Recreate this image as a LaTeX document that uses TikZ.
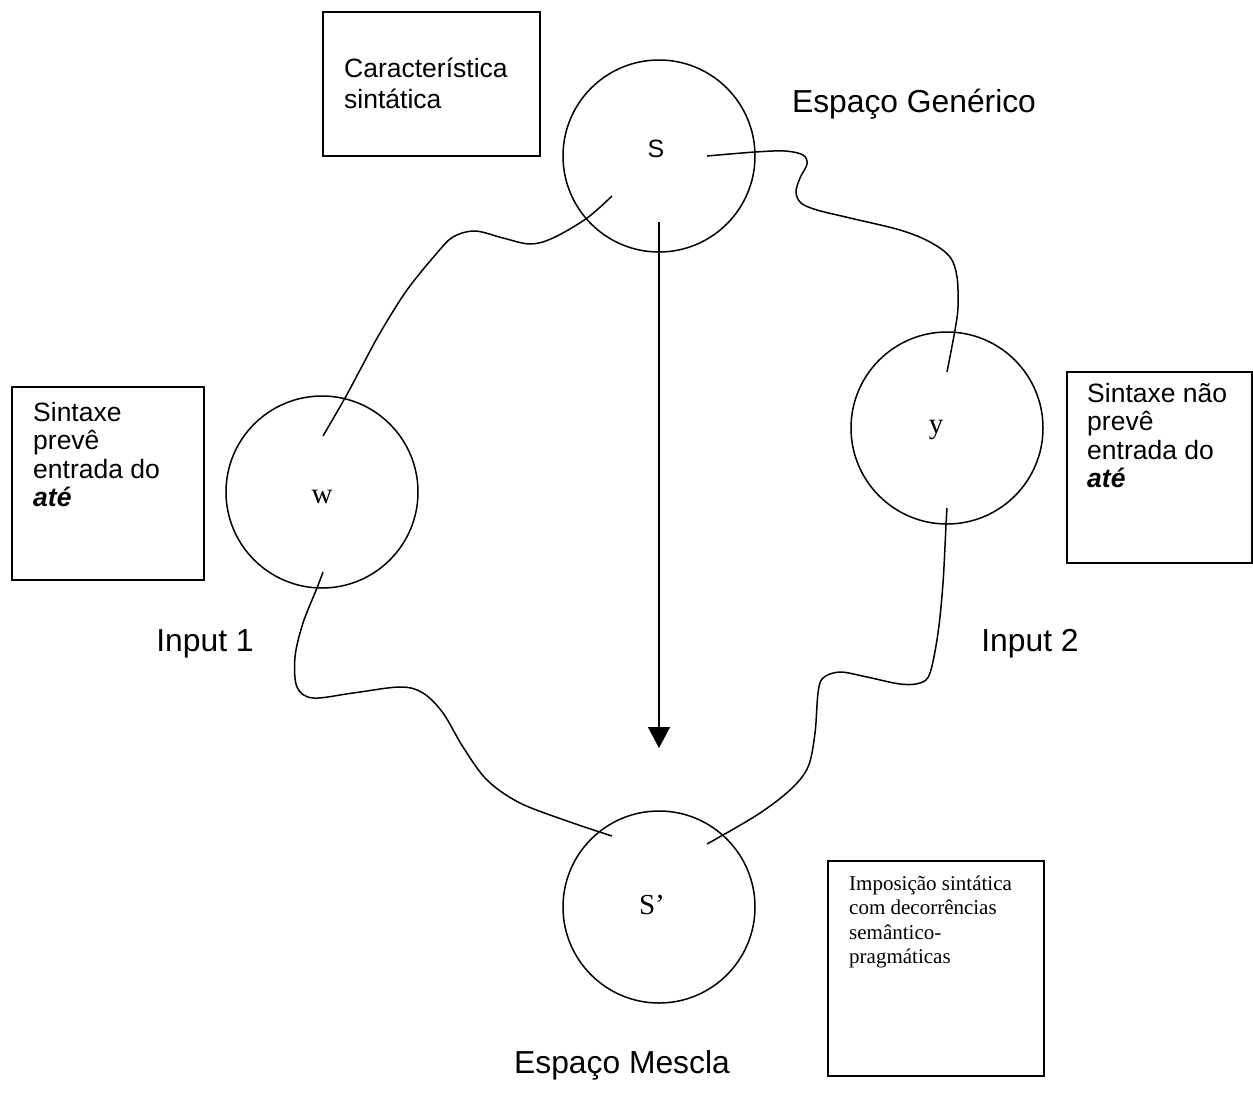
\documentclass[tikz,border=0pt]{standalone}
\usepackage{fontspec}
\setmainfont{Liberation Serif}
\setsansfont{Liberation Sans}
\usetikzlibrary{arrows.meta,calc}
\begin{document}
\begin{tikzpicture}[x=1pt,y=-1pt,
  every node/.style={inner sep=0pt},
  space/.style={draw, circle, minimum size=192pt, line width=1.5pt},
  infobox/.style={draw, line width=1.5pt},
  link/.style={line width=1.5pt},
  boxtext/.style={font=\sffamily\fontsize{26.5}{28.5}\selectfont, align=left, anchor=base west},
  notetext/.style={font=\fontsize{21}{24.5}\selectfont, align=left, anchor=base west},
  spacename/.style={font=\sffamily\fontsize{31.8}{36}\selectfont, anchor=base},
  elem/.style={font=\fontsize{29}{34}\selectfont, anchor=base}]
\useasboundingbox (0,0) rectangle (1253,1106);

% mental spaces
\node[space] (gen) at (659,156) {};
\node[space] (in1) at (322,492) {};
\node[space] (in2) at (947,428) {};
\node[space] (blend) at (659,907) {};

% elements inside the spaces
\node[font=\sffamily\fontsize{25}{30}\selectfont, anchor=base] (genlbl) at (656,157) {S};
\node[elem] (in1lbl) at (322,503) {w};
\node[elem] (in2lbl) at (936,433) {y};
\node[elem] (blendlbl) at (652,914) {S’};

% space names
\node[spacename] (genname) at (914,112) {Espaço Genérico};
\node[spacename] (in1name) at (205,651) {Input 1};
\node[spacename] (in2name) at (1030,651) {Input 2};
\node[spacename] (blendname) at (622,1073) {Espaço Mescla};

% comment boxes (text anchored on the baseline of its last line)
\node[infobox, minimum width=217pt, minimum height=144pt] (boxgen) at (431.5,84) {};
\node[boxtext, font=\sffamily\fontsize{26.5}{31}\selectfont] (txtgen) at (344,108) {Característica\\sintática};
\node[infobox, minimum width=192pt, minimum height=193pt] (boxin1) at (108,483.5) {};
\node[boxtext] (txtin1) at (33,506.5) {Sintaxe\\prevê\\entrada do\\\textbf{\textit{até}}};
\node[infobox, minimum width=185pt, minimum height=191pt] (boxin2) at (1159.5,467.5) {};
\node[boxtext] (txtin2) at (1087,487.5) {Sintaxe não\\prevê\\entrada do\\\textbf{\textit{até}}};
\node[infobox, minimum width=216pt, minimum height=215pt] (boxblend) at (936,968.5) {};
\node[notetext] (txtblend) at (849,963.5) {Imposição sintática\\com decorrências\\semântico-\\pragmáticas};

% ends of the mapping lines
\coordinate (gen-a) at ($(gen)+(-47,40)$);
\coordinate (gen-b) at ($(gen)+(48,0)$);
\coordinate (in1-a) at ($(in1)+(1,-56)$);
\coordinate (in1-b) at ($(in1)+(1,80)$);
\coordinate (in2-a) at ($(in2)+(0,-56)$);
\coordinate (in2-b) at ($(in2)+(0,80)$);
\coordinate (blend-a) at ($(blend)+(-47,-71)$);
\coordinate (blend-b) at ($(blend)+(48,-63)$);

% generic space -> input 1
\draw[link] plot[smooth, tension=0.55] coordinates {(gen-a) (586.7,218.3) (553,238) (530,244) (503,238) (475,231) (453,237) (437,253) (407,290) (380,333) (360,370) (345,398) (in1-a)};
% generic space -> input 2
\draw[link] plot[smooth, tension=0.55] coordinates {(gen-b) (755,152) (785,151) (803,155) (807,164) (800,178) (796,192) (801,203) (817,210) (850,218) (900,230) (930,242) (950,257) (957,277) (958,307) (955,330) (in2-a)};
% input 1 -> blend
\draw[link] plot[smooth, tension=0.55] coordinates {(in1-b) (317,588) (303,623) (295,657) (297,687) (313,698) (353,693) (400,687) (423,693) (443,713) (463,747) (487,780) (520,803) (570,822) (blend-a)};
% input 2 -> blend
\draw[link] plot[smooth, tension=0.55] coordinates {(in2-b) (946,525) (943,583) (938,633) (930,673) (920,683) (900,684) (867,677) (840,672) (823,678) (818,693) (815,733) (808,767) (790,790) (757,815) (blend-b)};

% projection from the generic space to the blend
\coordinate (proj-start) at ($(gen)+(0,66)$);
\coordinate (proj-end) at ($(blend)+(0,-159)$);
\draw[link, -{Triangle[length=21pt,width=22pt]}] (proj-start) -- (proj-end);
\end{tikzpicture}
\end{document}
